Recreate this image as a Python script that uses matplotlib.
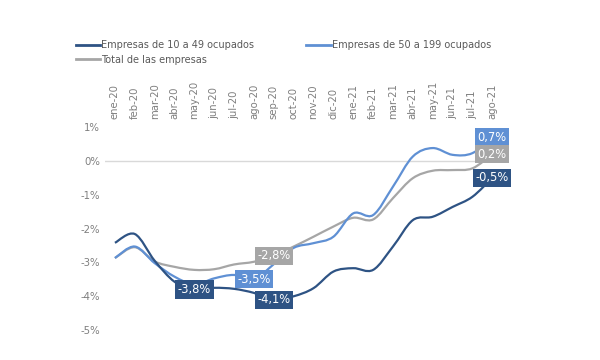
import matplotlib.pyplot as plt
from matplotlib.path import Path
from matplotlib.patches import PathPatch
from matplotlib.lines import Line2D

meses = ["ene-20", "feb-20", "mar-20", "abr-20", "may-20", "jun-20", "jul-20",
         "ago-20", "sep-20", "oct-20", "nov-20", "dic-20", "ene-21", "feb-21",
         "mar-21", "abr-21", "may-21", "jun-21", "jul-21", "ago-21"]

peq = [-2.42, -2.16, -2.95, -3.57, -3.8, -3.75, -3.78, -3.9, -4.1, -4.0,
       -3.76, -3.27, -3.17, -3.22, -2.53, -1.75, -1.65, -1.36, -1.06, -0.5]
med = [-2.87, -2.53, -3.02, -3.42, -3.65, -3.47, -3.37, -3.5, -3.05, -2.57,
       -2.43, -2.24, -1.55, -1.6, -0.76, 0.13, 0.38, 0.18, 0.23, 0.7]
tot = [-2.87, -2.55, -2.97, -3.13, -3.22, -3.2, -3.06, -2.98, -2.8, -2.53,
       -2.24, -1.94, -1.68, -1.73, -1.1, -0.51, -0.29, -0.27, -0.22, 0.2]

# (serie, mes, texto)
etiquetas = [("peq", 4, "-3,8%"), ("peq", 8, "-4,1%"), ("peq", 19, "-0,5%"),
             ("med", 7, "-3,5%"), ("med", 19, "0,7%"),
             ("tot", 8, "-2,8%"), ("tot", 19, "0,2%")]

c_peq = "#2E5384"
c_med = "#5F90D4"
c_tot = "#A6A6A6"
gris = "#7F7F7F"


def suave(ys):
    # curva suavizada tipo Excel (Catmull-Rom -> Bezier)
    xs = list(range(len(ys)))
    pts = list(zip(xs, ys))
    verts = [pts[0]]
    codes = [Path.MOVETO]
    n = len(pts)
    for i in range(n - 1):
        p0 = pts[i - 1] if i > 0 else pts[i]
        p1 = pts[i]
        p2 = pts[i + 1]
        p3 = pts[i + 2] if i + 2 < n else pts[i + 1]
        c1 = (p1[0] + (p2[0] - p0[0]) / 6, p1[1] + (p2[1] - p0[1]) / 6)
        c2 = (p2[0] - (p3[0] - p1[0]) / 6, p2[1] - (p3[1] - p1[1]) / 6)
        verts += [c1, c2, p2]
        codes += [Path.CURVE4] * 3
    return Path(verts, codes)


fig = plt.figure(figsize=(6, 3.6), dpi=100)
ax = fig.add_axes([0.175, 0.083, 0.662, 0.564])

series = {"peq": (peq, c_peq), "med": (med, c_med), "tot": (tot, c_tot)}
for key in ["tot", "med", "peq"]:
    ys, col = series[key]
    ax.add_patch(PathPatch(suave(ys), facecolor="none", edgecolor=col, lw=1.6, zorder=3))

ax.axhline(0, color="#D9D9D9", lw=1, zorder=1)

for key, i, txt in etiquetas:
    ys, col = series[key]
    ax.text(i, ys[i], txt, ha="center", va="center", color="white", fontsize=8.3,
            zorder=5, bbox=dict(boxstyle="square,pad=0.22", fc=col, ec="none"))

ax.set_xlim(-0.5, len(meses) - 0.5)
ax.set_ylim(-5, 1)
ax.set_yticks(range(-5, 2))
ax.set_yticklabels([f"{v}%" for v in range(-5, 2)])
ax.set_xticks(range(len(meses)))
ax.set_xticklabels(meses, rotation=90)
ax.xaxis.tick_top()
ax.tick_params(length=0, colors=gris, labelsize=7.3)
ax.tick_params(axis="x", pad=6)
for s in ax.spines.values():
    s.set_visible(False)

handles = [Line2D([], [], color=c_peq, lw=2), Line2D([], [], color=c_tot, lw=2),
           Line2D([], [], color=c_med, lw=2)]
labels = ["Empresas de 10 a 49 ocupados", "Total de las empresas",
          "Empresas de 50 a 199 ocupados"]
leg = fig.legend(handles, labels, loc="upper left", bbox_to_anchor=(0.126, 0.888),
                 ncol=2, frameon=False, fontsize=7.0, handlelength=2.5,
                 handletextpad=0.1, columnspacing=5.4, labelspacing=0.45,
                 borderaxespad=0, borderpad=0)
for t in leg.get_texts():
    t.set_color("#595959")

fig.savefig("out.png", dpi=100)
